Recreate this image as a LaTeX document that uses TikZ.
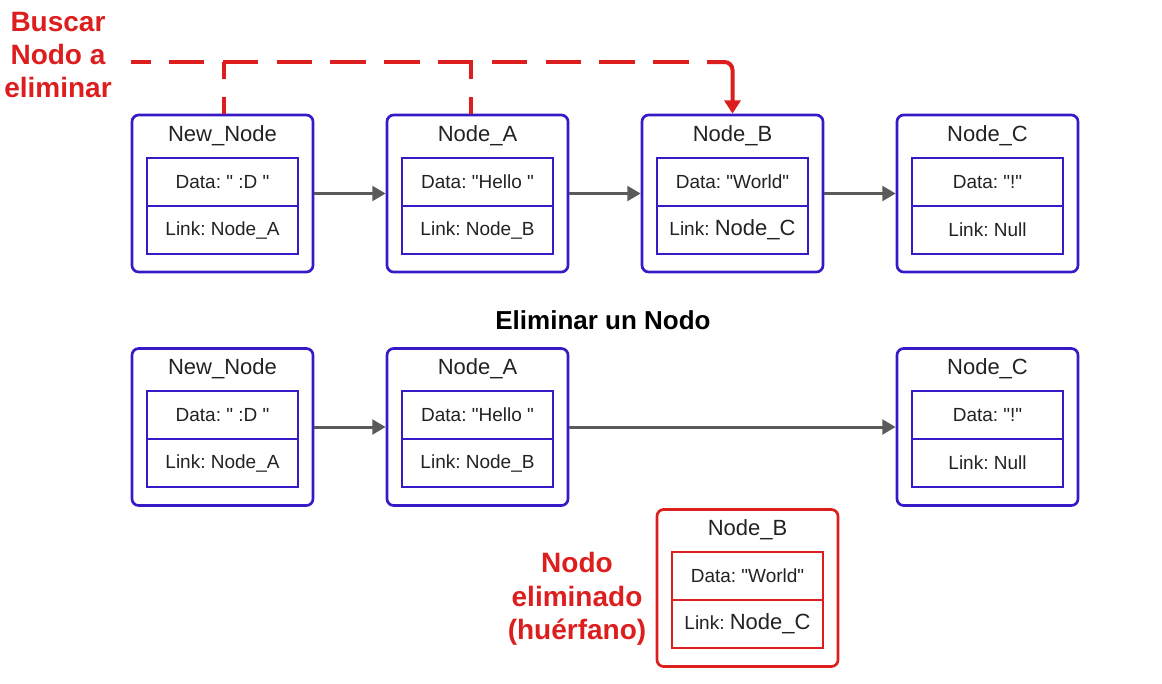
\documentclass[tikz,border=0pt]{standalone}
\usepackage{fontspec}
\setmainfont{Liberation Sans}[Ligatures=TeXOff]
\usetikzlibrary{arrows.meta}
\definecolor{boxblue}{RGB}{55,25,200}
\definecolor{markred}{RGB}{220,30,30}
\definecolor{linkgray}{RGB}{90,90,90}
\definecolor{txt}{RGB}{34,34,34}
\frenchspacing

\begin{document}
\begin{tikzpicture}[x=0.75pt,y=-0.75pt,
  outer/.style={draw=boxblue,line width=2pt,rounded corners=5pt,minimum width=135.75pt,minimum height=117.75pt},
  cell/.style={draw=boxblue,line width=1.6pt,minimum width=113.25pt,minimum height=36pt,font=\fontsize{14.25}{16}\selectfont,text=txt},
  title/.style={font=\fontsize{16.5}{19}\selectfont,text=txt},
  next/.style={draw=linkgray,line width=2.25pt,-{Triangle[length=10pt,width=11pt]}},
  search/.style={draw=markred,line width=3pt,dash pattern=on 26.6pt off 13.75pt,dash phase=11.85pt},
  riser/.style={draw=markred,line width=3pt,dash pattern=on 12.75pt off 13.5pt},
  note/.style={text=markred,font=\bfseries\fontsize{21}{25}\selectfont,align=center}]
\useasboundingbox (0,0) rectangle (1162,683);

\node[outer] (nn1) at (222.5,193.5) {};
\node[outer] (na1) at (477.5,193.5) {};
\node[outer] (nb1) at (732.5,193.5) {};
\node[outer] (nc1) at (987.5,193.5) {};
\node[title] (nn1t) at (222.5,136) {New\_Node};
\node[title] (na1t) at (477.5,136) {Node\_A};
\node[title] (nb1t) at (732.5,136) {Node\_B};
\node[title] (nc1t) at (987.5,136) {Node\_C};
\node[cell] (nn1d) at (222.5,182) {Data: " :D "};
\node[cell] (na1d) at (477.5,182) {Data: "Hello "};
\node[cell] (nb1d) at (732.5,182) {Data: "World"};
\node[cell] (nc1d) at (987.5,182) {Data: "!"};
\node[cell] (nn1l) at (222.5,230) {Link: Node\_A};
\node[cell] (na1l) at (477.5,230) {Link: Node\_B};
\node[cell] (nb1l) at (732.5,230) {Link: {\fontsize{16.5}{19}\selectfont Node\_C}};
\node[cell] (nc1l) at (987.5,230) {Link: Null};
\draw[next] (nn1) -- (na1);
\draw[next] (na1) -- (nb1);
\draw[next] (nb1) -- (nc1);

\node[note] (buscar) at (58,55) {Buscar\\Nodo a\\eliminar};
\coordinate (s0) at (131,62);
\coordinate (s1) at (224,62);
\coordinate (s2) at (471,62);
\coordinate (s3) at (707,62);
\draw[riser] (nn1.north -| s1) -- (s1);
\draw[riser] (na1.north -| s2) -- (s2);
\draw[search] (s0) -- (s3);
\draw[draw=markred,line width=3pt,rounded corners=6pt,-{Triangle[length=10pt,width=12pt]}] (s3) -| (nb1.north);

\node[font=\bfseries\fontsize{19.5}{23}\selectfont,text=black] (heading) at (603,320) {Eliminar un Nodo};

\node[outer] (nn2) at (222.5,427) {};
\node[outer] (na2) at (477.5,427) {};
\node[outer] (nc2) at (987.5,427) {};
\node[title] (nn2t) at (222.5,369) {New\_Node};
\node[title] (na2t) at (477.5,369) {Node\_A};
\node[title] (nc2t) at (987.5,369) {Node\_C};
\node[cell] (nn2d) at (222.5,415) {Data: " :D "};
\node[cell] (na2d) at (477.5,415) {Data: "Hello "};
\node[cell] (nc2d) at (987.5,415) {Data: "!"};
\node[cell] (nn2l) at (222.5,463) {Link: Node\_A};
\node[cell] (na2l) at (477.5,463) {Link: Node\_B};
\node[cell] (nc2l) at (987.5,463) {Link: Null};
\draw[next] (nn2) -- (na2);
\draw[next] (na2) -- (nc2);

\node[outer,draw=markred] (nbx) at (747.5,588) {};
\node[title] (nbxt) at (747.5,530) {Node\_B};
\node[cell,draw=markred] (nbxd) at (747.5,576) {Data: "World"};
\node[cell,draw=markred] (nbxl) at (747.5,624) {Link: {\fontsize{16.5}{19}\selectfont Node\_C}};
\node[note] (orphan) at (577,599) {Nodo\\eliminado\\(huérfano)};
\end{tikzpicture}
\end{document}
